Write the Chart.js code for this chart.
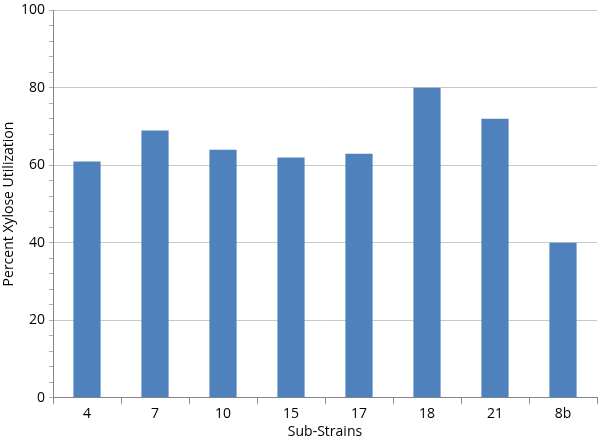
<!DOCTYPE html>
<html>
<head>
<meta charset="utf-8">
<script src="https://cdn.jsdelivr.net/npm/chart.js@4"></script>
<style>
  html, body { margin: 0; padding: 0; background: #fff; }
  #wrap { width: 600px; height: 441px; }
</style>
</head>
<body>
<div id="wrap"><canvas id="Chart1"></canvas></div>
<script>
const strains = ["4", "7", "10", "15", "17", "18", "21", "8b"];
const xyloseUse = [61, 69, 64, 62, 63, 80, 72, 40];
const yTicks = [0, 20, 40, 60, 80, 100];

Chart.defaults.font.family = "'Open Sans', sans-serif";
Chart.defaults.font.size = 14;
Chart.defaults.color = '#000';

const ctx = document.getElementById("Chart1");
new Chart(ctx, {
    type: "bar",
    data: {
        labels: strains,
        datasets: [
            {
                label: "Percent Xylose Utilization",
                data: xyloseUse,
                backgroundColor: "#4F81BD",
                borderWidth: 0,
                barPercentage: 0.4,
                categoryPercentage: 1,
            },
        ],
    },
    options: {
        responsive: true,
        maintainAspectRatio: false,
        animation: false,
        layout: { padding: { top: 0, right: 3, left: 2, bottom: 0 } },
        plugins: {
            legend: { display: false },
            tooltip: { enabled: false },
        },
        scales: {
            x: {
                grid: {
                    offset: true,
                    drawOnChartArea: false,
                    tickLength: 6,
                    color: "#868686",
                },
                border: { color: "#868686" },
                ticks: { padding: 2, font: { size: 14 } },
                title: {
                    display: true,
                    text: "Sub-Strains",
                    font: { size: 14, lineHeight: 1.1 },
                    padding: { top: 0, bottom: 1 },
                },
            },
            y: {
                min: 0,
                max: 100,
                ticks: {
                    stepSize: 4,
                    autoSkip: false,
                    padding: 4,
                    font: { size: 14, lineHeight: 0.9 },
                    callback: (v) => (yTicks.includes(v) ? v : ""),
                },
                grid: {
                    tickLength: 4,
                    color: (c) => (c.tick && c.tick.value % 20 === 0 ? "#C8C8C8" : "rgba(0,0,0,0)"),
                    tickColor: "#B0B0B0",
                },
                border: { color: "#868686" },
                title: {
                    display: true,
                    text: "Percent Xylose Utilization",
                    font: { size: 14, lineHeight: 1.0 },
                    padding: { top: 0, bottom: 1 },
                },
            },
        },
    },
});
</script>
</body>
</html>
